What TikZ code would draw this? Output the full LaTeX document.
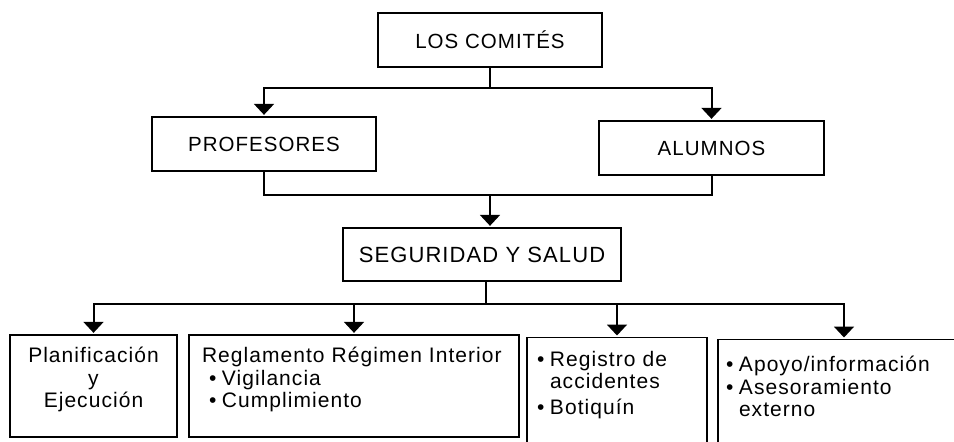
\documentclass[tikz,border=0pt]{standalone}
\usepackage{fontspec}
\setmainfont{Liberation Sans}[LetterSpace=5]
\usepackage{tikz}
\usetikzlibrary{arrows.meta,positioning,calc}
\newcommand{\blt}{\makebox[13pt][l]{\textbullet}}

\begin{document}
\begin{tikzpicture}[
  x=1pt, y=-1pt,
  every node/.style={font=\fontsize{21}{22.5}\selectfont},
  hd/.style={rectangle, draw=black, line width=1.3pt, inner sep=0pt,
             minimum height=54pt, align=center, font=\fontsize{20.5}{24}\selectfont},
  bx/.style={rectangle, draw=black, line width=1.3pt, inner ysep=0pt},
  lift/.style={execute at end node={\endgraf\vspace*{#1}}},
  ln/.style={line width=2pt, draw=black},
  arr/.style={ln, -{Triangle[width=20pt,length=11pt]}, shorten >=1.5pt},
]
\clip (0,0) rectangle (954,442);

%% ─ Top levels ───────────────────────────────────────────────────────────────
\node[hd, minimum width=224pt] (com)  at (490,  40) {LOS COMITÉS};
\node[hd, minimum width=224pt] (prof) at (264, 144) {PROFESORES};
\node[hd, minimum width=225pt] (alum) at (711.5,148) {ALUMNOS};
\node[hd, minimum width=278pt, minimum height=53pt, font=\fontsize{22}{24}\selectfont]
     (seg) at (482, 254.5) {SEGURIDAD Y SALUD};

%% ─ Bottom boxes ─────────────────────────────────────────────────────────────
\node[bx, minimum width=167pt, minimum height=102pt, align=center,
      text width=155pt, lift=13pt]
     (plan)  at (93.5, 386) {Planificación\\y\\Ejecución};
\node[bx, minimum width=330pt, minimum height=102pt, align=left,
      text width=304pt, inner xsep=13pt, lift=13pt]
     (regl)  at (354, 386) {Reglamento Régimen Interior\\
       \hspace*{7pt}\blt Vigilancia\\
       \hspace*{7pt}\blt Cumplimiento};
\node[bx, minimum width=180pt, minimum height=108pt, align=left,
      text width=160pt, inner xsep=10pt, anchor=north, lift=14pt]
     (regi)  at (617, 337) {\blt Registro de\\
       \hspace*{13pt}accidentes\\[3pt]
       \blt Botiquín};
\node[bx, minimum width=252pt, minimum height=108pt, align=left,
      text width=236pt, inner xsep=8pt, anchor=north, lift=14pt]
     (apoyo) at (844, 339) {\blt Apoyo/información\\
       \blt Asesoramiento\\
       \hspace*{13pt}externo};

%% ─ Junctions ────────────────────────────────────────────────────────────────
\coordinate (b1) at (490,  88);
\coordinate (b2) at (490, 195);
\coordinate (b3) at (486, 304);

%% ─ Arrows: Comités → Profesores / Alumnos ───────────────────────────────────
\draw[ln]  (com.south) -- (b1);
\draw[arr] (b1) -| (prof.north);
\draw[arr] (b1) -| (alum.north);

%% ─ Arrows: Profesores / Alumnos → Seguridad ─────────────────────────────────
\draw[ln]  (prof.south) |- (b2);
\draw[ln]  (alum.south) |- (b2);
\draw[arr] (b2) -- (b2 |- seg.north);

%% ─ Arrows: Seguridad → bottom row ───────────────────────────────────────────
\draw[ln] (b3 |- seg.south) -- (b3);
\foreach \n in {plan,regl,regi,apoyo}
  \draw[arr] (b3) -| (\n.north);

\end{tikzpicture}
\end{document}
